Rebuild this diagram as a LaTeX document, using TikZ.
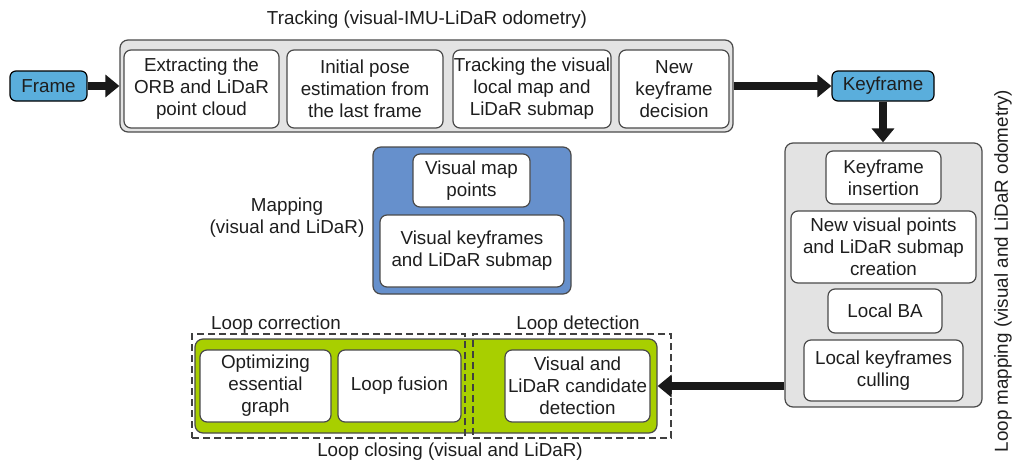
\documentclass[tikz,border=0pt]{standalone}
\usepackage{fontspec}
\setmainfont{Liberation Sans}
\usetikzlibrary{arrows.meta,calc}
\definecolor{grayfill}{HTML}{E3E3E3}
\definecolor{edge}{HTML}{4A4A4A}
\definecolor{framefill}{HTML}{5AAEDC}
\definecolor{mapfill}{HTML}{6690CC}
\definecolor{greenfill}{HTML}{A8CF00}
\definecolor{txt}{HTML}{1E1E1E}
\tikzset{
  every node/.style={font=\fontsize{18.8}{22}\selectfont, text=txt},
  grp/.style={draw=edge, line width=1.2pt, rounded corners=8pt, inner sep=0pt},
  wbox/.style={draw=edge, fill=white, line width=1.2pt, rounded corners=7pt, align=center, inner sep=0pt},
  tag/.style={draw=black, fill=framefill, line width=1.2pt, rounded corners=6pt, inner sep=0pt},
  dbox/.style={draw=black!75, line width=1.1pt, dash pattern=on 7pt off 4pt, inner sep=0pt},
  bigarrow/.style={draw=black!90, line width=8pt, -{Triangle[length=14pt,width=22pt]}},
  lbl/.style={align=center, inner sep=0pt}
}
\begin{document}
\begin{tikzpicture}[x=1pt,y=-1pt]
\useasboundingbox (0,0) rectangle (1014,461);
% Tracking
\node[lbl] (trktitle) at (427,20) {Tracking (visual-IMU-LiDaR odometry)};
\node[grp, fill=grayfill, minimum width=613pt, minimum height=92pt] (trk) at (426.5,86) {};
\node[wbox, minimum width=155pt, minimum height=78pt] (b1) at (201.5,89) {Extracting the\\ORB and LiDaR\\point cloud};
\node[wbox, minimum width=156pt, minimum height=78pt] (b2) at (365,89) {Initial pose\\estimation from\\the last frame};
\node[wbox, minimum width=158pt, minimum height=78pt] (b3) at (532,89) {Tracking the visual\\local map and\\LiDaR submap};
\node[wbox, minimum width=110pt, minimum height=78pt] (b4) at (674,89) {New\\keyframe\\decision};
\node[tag, minimum width=77pt, minimum height=30pt] (frame) at (48.5,86) {Frame};
\node[tag, minimum width=102pt, minimum height=30pt] (kf) at (883,86) {Keyframe};
% Loop mapping
\node[grp, fill=grayfill, minimum width=197pt, minimum height=264pt] (lm) at (883.5,275) {};
\node[wbox, minimum width=115pt, minimum height=53pt] (ki) at (883.5,177.5) {Keyframe\\insertion};
\node[wbox, minimum width=185pt, minimum height=72pt] (nv) at (883.5,247) {New visual points\\and LiDaR submap\\creation};
\node[wbox, minimum width=114pt, minimum height=44pt] (lba) at (885,311) {Local BA};
\node[wbox, minimum width=159pt, minimum height=61pt] (lkc) at (883.5,370.5) {Local keyframes\\culling};
\node[lbl, rotate=90] (lmtitle) at (1003,271) {Loop mapping (visual and LiDaR odometry)};
% Mapping
\node[lbl] (maptitle) at (287,218) {Mapping\\(visual and LiDaR)};
\node[grp, fill=mapfill, minimum width=198pt, minimum height=147pt] (map) at (472,220.5) {};
\node[wbox, minimum width=117pt, minimum height=53pt] (vmp) at (471.5,180.5) {Visual map\\points};
\node[wbox, minimum width=184pt, minimum height=72pt] (vk) at (472,251) {Visual keyframes\\and LiDaR submap};
% Loop closing
\node[grp, fill=greenfill, minimum width=462pt, minimum height=94pt] (green) at (426,386) {};
\node[dbox, minimum width=273pt, minimum height=104pt] (lcbox) at (328.5,386) {};
\node[dbox, minimum width=198pt, minimum height=104pt] (ldbox) at (572,386) {};
\node[wbox, minimum width=131pt, minimum height=72pt] (oeg) at (265.5,386) {Optimizing\\essential\\graph};
\node[wbox, minimum width=123pt, minimum height=72pt] (lf) at (399.5,386) {Loop fusion};
\node[wbox, minimum width=145pt, minimum height=72pt] (vlc) at (577.5,386) {Visual and\\LiDaR candidate\\detection};
\node[lbl] (lctitle) at (276,325) {Loop correction};
\node[lbl] (ldtitle) at (578,325) {Loop detection};
\node[lbl] (lcltitle) at (450,452) {Loop closing (visual and LiDaR)};
% Connectors
\draw[bigarrow] (frame.east) -- (trk.west |- frame.east);
\draw[bigarrow] (trk.east |- kf.west) -- (kf.west);
\draw[bigarrow] (kf.south) -- (kf.south |- lm.north);
\draw[bigarrow] (lm.west |- green.east) -- (green.east);
\end{tikzpicture}
\end{document}
